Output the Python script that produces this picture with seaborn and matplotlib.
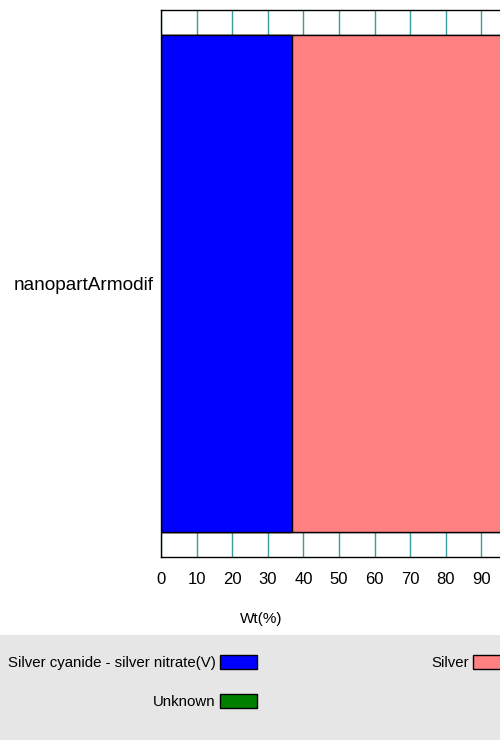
import pandas as pd
import seaborn as sns
import matplotlib.pyplot as plt
from matplotlib.patches import Rectangle, Patch

# values
samples = ["nanopartArmodif"]
wt_cyanide = [36.8]
wt_silver = [63.2]
wt_unknown = [0.0]
labels = ["Silver cyanide - silver nitrate(V)", "Silver", "Unknown"]
colors = ["#0000ff", "#ff8080", "#008000"]
x_ticks = [0, 10, 20, 30, 40, 50, 60, 70, 80, 90]

df = pd.DataFrame({"sample": samples, "cyanide": wt_cyanide,
                   "silver": wt_silver, "unknown": wt_unknown})
# cumulative sums so that the bars stack when drawn back to front
df["cum_cyanide"] = df["cyanide"]
df["cum_silver"] = df["cum_cyanide"] + df["silver"]
df["cum_unknown"] = df["cum_silver"] + df["unknown"]

sns.set_style("white")
plt.rcParams["font.family"] = ["Liberation Sans", "DejaVu Sans"]
plt.rcParams["text.color"] = "black"
plt.rcParams["xtick.color"] = "black"
plt.rcParams["ytick.color"] = "black"
plt.rcParams["axes.labelcolor"] = "black"

fig = plt.figure(figsize=(5, 7.4), dpi=100)
# grey legend band at the bottom
fig.add_artist(Rectangle((0, 0), 1, 1 - 635 / 740, transform=fig.transFigure,
                         facecolor="#e6e6e6", edgecolor="none", zorder=0))

ax = fig.add_axes([161 / 500, 1 - 557 / 740, 356 / 500, 547 / 740])

for col, c in zip(["cum_unknown", "cum_silver", "cum_cyanide"],
                  [colors[2], colors[1], colors[0]]):
    sns.barplot(data=df, x=col, y="sample", orient="h", color=c,
                saturation=1, width=0.909, edgecolor="black", linewidth=1,
                ax=ax)

ax.set_xlim(0, 100)
ax.set_xticks(x_ticks)
ax.grid(axis="x", color="#3a9e9e", linewidth=1)
ax.grid(axis="y", visible=False)
ax.set_axisbelow(True)
for s in ax.spines.values():
    s.set_color("black")
    s.set_linewidth(1)

ax.tick_params(axis="x", length=0, pad=11, labelsize=12)
ax.tick_params(axis="y", length=0, pad=5, labelsize=13.7)
ax.set_ylabel("")
ax.set_xlabel("Wt(%)", fontsize=11)
ax.xaxis.set_label_coords((261 - 161) / 356, -0.1)

handles = [Patch(facecolor=colors[0], edgecolor="black", label=labels[0]),
           Patch(facecolor=colors[2], edgecolor="black", label=labels[2]),
           Patch(facecolor=colors[1], edgecolor="black", label=labels[1])]
fig.legend(handles=handles, ncol=2, loc="upper left",
           bbox_to_anchor=(8 / 500, 1 - 655 / 740), frameon=False,
           markerfirst=False, fontsize=10.8, handlelength=2.5,
           handleheight=1.1, handletextpad=0.27, labelspacing=1.55,
           columnspacing=11.6, borderpad=0, borderaxespad=0)

fig.savefig("out.png", dpi=100)
